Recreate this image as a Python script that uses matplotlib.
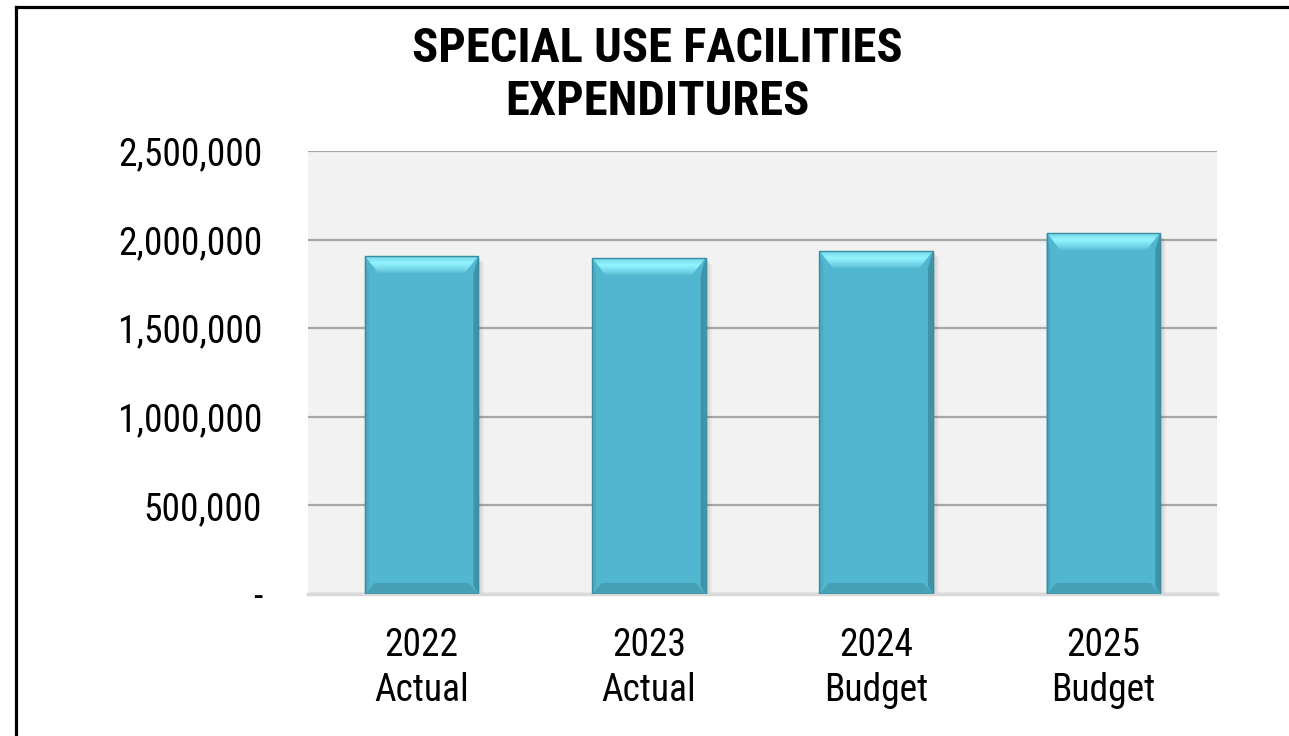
import numpy as np
import matplotlib
matplotlib.use('Agg')
from matplotlib import pyplot as plt
from matplotlib.patches import Polygon, Rectangle
from matplotlib.lines import Line2D
from matplotlib.ticker import FuncFormatter

years = ['2022', '2023', '2024', '2025']
kinds = ['Actual', 'Actual', 'Budget', 'Budget']
spend = [1909000, 1898000, 1937000, 2040000]

plt.rcParams['font.family'] = ['Roboto Condensed', 'Archivo Narrow', 'Liberation Sans', 'DejaVu Sans']

W, H = 1289, 736
fig = plt.figure(figsize=(W / 100, H / 100), dpi=100)
ax = fig.add_axes([308 / W, 1 - 594 / H, 909 / W, 443 / H])
ax.set_facecolor('#f2f2f2')

x = np.arange(len(years))
bw = 0.5

# size of one pixel in data units, used for the bevel and shadow
px = len(years) / 909
py = 2500000 / 443

base = '#51b6cf'
for xi, v in zip(x, spend):
    x0, x1 = xi - bw / 2, xi + bw / 2
    # soft drop shadow
    for k, a in [(6, 0.05), (4, 0.08), (2, 0.12)]:
        ax.add_patch(Rectangle((x0 + k * px, -k * py), bw, v, color='#404040',
                               alpha=a, lw=0, zorder=2))
    ax.bar(xi, v, bw, color=base, lw=0, zorder=3)
    dx, dy = 14 * px, 18 * py
    # left / right side bevels
    ax.add_patch(Polygon([(x0, 0), (x0 + 4 * px, 8 * py), (x0 + 4 * px, v - dy), (x0, v)],
                         closed=True, color='#4aabc3', lw=0, zorder=4))
    ax.add_patch(Polygon([(x1, 0), (x1 - 5 * px, 8 * py), (x1 - 5 * px, v - dy), (x1, v)],
                         closed=True, color='#3f93a9', lw=0, zorder=4))
    # bottom bevel
    ax.add_patch(Polygon([(x0, 0), (x1, 0), (x1 - 10 * px, 11 * py), (x0 + 10 * px, 11 * py)],
                         closed=True, color='#479fb6', lw=0, zorder=4))
    # top bevel with a light gradient
    top = Polygon([(x0, v), (x1, v), (x1 - dx, v - dy), (x0 + dx, v - dy)],
                  closed=True, facecolor='none', lw=0, zorder=5)
    ax.add_patch(top)
    t = np.linspace(0, 1, 60).reshape(-1, 1)
    c_hi = np.array([0.58, 0.96, 1.0])
    c_lo = np.array([0.32, 0.71, 0.81])
    w = np.clip(1 - np.abs(t - 0.62) / 0.62, 0, 1) ** 0.8
    img = c_lo + (c_hi - c_lo) * w[..., None]
    im = ax.imshow(img, extent=(x0, x1, v - dy, v), aspect='auto', origin='lower',
                   interpolation='bilinear', zorder=5)
    im.set_clip_path(top)
    ax.plot([x0, x1, x1, x0, x0], [0, 0, v, v, 0], color='#3a8ca1', lw=1.0, zorder=6)

ax.set_xlim(-0.5, len(years) - 0.5)
ax.set_ylim(0, 2500000)

ax.set_yticks(np.arange(0, 2500001, 500000))
ax.yaxis.set_major_formatter(FuncFormatter(lambda v, p: '-' if v == 0 else f'{int(v):,}'))
ax.grid(axis='y', color='#a6a6a6', lw=1.6, zorder=1)
ax.set_axisbelow(True)
ax.set_xticks(x)
ax.set_xticklabels([f'{y}\n{k}' for y, k in zip(years, kinds)], linespacing=1.25)
ax.tick_params(axis='y', length=0, pad=33, labelsize=27)
ax.tick_params(axis='x', length=0, pad=24, labelsize=27)
for s in ['top', 'left', 'right']:
    ax.spines[s].set_visible(False)
ax.spines['bottom'].set_color('#d9d9d9')
ax.spines['bottom'].set_linewidth(2.5)

fig.text(0.510, 1 - 61.7 / H, 'SPECIAL USE FACILITIES', ha='center', va='baseline',
         fontsize=35, fontweight='bold')
fig.text(0.510, 1 - 115 / H, 'EXPENDITURES', ha='center', va='baseline',
         fontsize=35, fontweight='bold')

# outer frame, only the top and left edges fall inside the image
fig.add_artist(Line2D([15.5 / W, 15.5 / W], [0, 1 - 6.5 / H], color='black', lw=2.3,
                      transform=fig.transFigure))
fig.add_artist(Line2D([15.5 / W, 1], [1 - 6.5 / H, 1 - 6.5 / H], color='black', lw=2.3,
                      transform=fig.transFigure))

fig.savefig('out.png', dpi=100)
